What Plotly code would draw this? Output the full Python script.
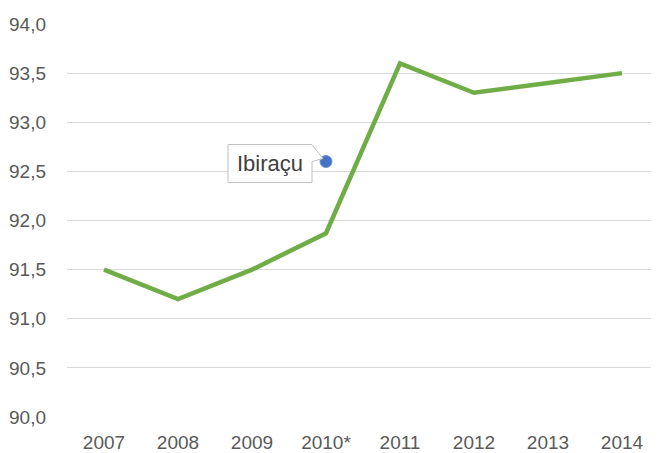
import plotly.graph_objects as go

years = ["2007", "2008", "2009", "2010*", "2011", "2012", "2013", "2014"]
values = [91.5, 91.2, 91.5, 91.87, 93.6, 93.3, 93.4, 93.5]
point_label = "Ibiraçu"
point_year = "2010*"
point_value = 92.6
y_ticks = [90.0, 90.5, 91.0, 91.5, 92.0, 92.5, 93.0, 93.5, 94.0]
y_tick_text = [f"{v:.1f}".replace(".", ",") for v in y_ticks]

W, H = 651, 445   # page body adds an 8px margin at the top/left
ml, mr, mt, mb = 59, 0, 16, 36
pw, ph = W - ml - mr, H - mt - mb
x_range = [-0.5, len(years) - 0.5]
px_x = (x_range[1] - x_range[0]) / pw   # category units per pixel
px_y = 4.0 / ph                         # y units per pixel

fig = go.Figure()
fig.add_trace(go.Scatter(x=list(range(len(years))), y=values, mode="lines",
                         line=dict(color="#70AD47", width=4.5), hoverinfo="skip"))
pi = years.index(point_year)
fig.add_trace(go.Scatter(x=[pi], y=[point_value], mode="markers",
                         marker=dict(color="#4472C4", size=12,
                                     line=dict(color="#6f93d6", width=1)),
                         hoverinfo="skip"))

# callout box relative to the point
def P(dx, dy):
    return pi + dx * px_x, point_value - dy * px_y

x0, y0 = P(-98, -17)
x1, y1 = P(-14, 21)
cx, cy = P(-14, -17)
tx, ty = P(-3, -3)
bx, by = P(-14, 0)
path = (f"M {x0},{y0} L {cx},{cy} L {tx},{ty} L {bx},{by} L {x1},{y1} "
        f"L {x0},{y1} Z")
fig.add_shape(type="path", path=path, xref="x", yref="y",
              line=dict(color="#BFBFBF", width=1), fillcolor="white", layer="above")
mx, my = P(-56, 2)
fig.add_annotation(x=mx, y=my, text=point_label, showarrow=False,
                   font=dict(family="Liberation Sans, Arial", size=22, color="#404040"),
                   xref="x", yref="y")

fig.update_layout(
    width=W, height=H, margin=dict(l=ml, r=mr, t=mt, b=mb),
    paper_bgcolor="white", plot_bgcolor="white", showlegend=False,
    font=dict(family="Liberation Sans, Arial", size=19, color="#595959"),
)
fig.update_xaxes(range=x_range, tickmode="array", automargin=False,
                 tickvals=list(range(len(years))), ticktext=years,
                 showgrid=False, zeroline=False, showline=False, ticks="",
                 ticklabelstandoff=12,
                 tickfont=dict(size=19, color="#595959"))
fig.update_yaxes(range=[90, 94], tickmode="array", tickvals=y_ticks,
                 ticktext=y_tick_text, showgrid=True, gridcolor="#D9D9D9",
                 gridwidth=1, zeroline=False, showline=False, ticks="",
                 ticklabelstandoff=20, automargin=False,
                 tickfont=dict(size=19, color="#595959"))

fig.write_html("out.html")
